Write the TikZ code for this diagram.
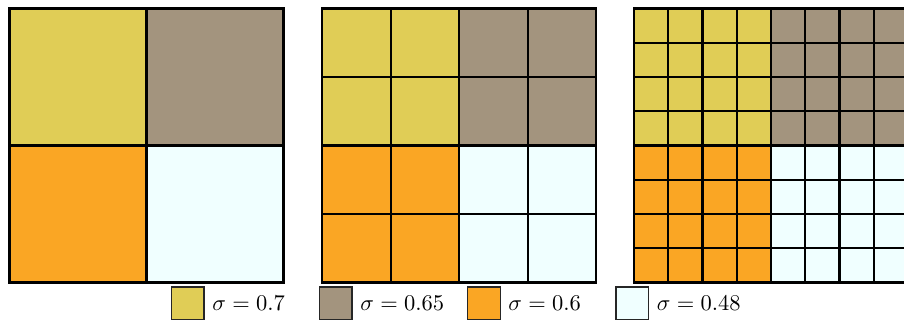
\documentclass[tikz,border=0pt]{standalone}
\definecolor{cyel}{RGB}{224,205,86}
\definecolor{cgry}{RGB}{163,148,126}
\definecolor{corg}{RGB}{250,166,36}
\definecolor{ccyn}{RGB}{240,255,255}
\begin{document}
\begin{tikzpicture}[x=0.4444pt,y=-0.4444pt,
  gridline/.style={line width=0.95pt, line cap=rect},
  legbox/.style={draw=black!85, line width=0.6pt, minimum size=14.4pt, inner sep=0pt},
  legtext/.style={anchor=base west, inner sep=0pt}]
\useasboundingbox (0,0) rectangle (904,320);
\clip (0,0) rectangle (904,320);
\foreach \x/\s/\n in {9.5/137/2, 322.3/68.5/4, 634/34.25/8} {
  \fill[cyel] (\x,8.5) rectangle ++(137,137);
  \fill[cgry] (\x+137,8.5) rectangle ++(137,137);
  \fill[corg] (\x,145.5) rectangle ++(137,137);
  \fill[ccyn] (\x+137,145.5) rectangle ++(137,137);
  \foreach \i in {0,...,\n} {
    \draw[gridline] (\x+\i*\s,8.5) -- ++(0,274);
    \draw[gridline] (\x,8.5+\i*\s) -- ++(274,0);
  }
}
\node[legbox, fill=cyel] (b1) at (187.7,303.2) {};
\node[legtext] (t1) at (212,310) {$\sigma = 0.7$};
\node[legbox, fill=cgry] (b2) at (335.8,303.2) {};
\node[legtext] (t2) at (360,310) {$\sigma = 0.65$};
\node[legbox, fill=corg] (b3) at (484,303.2) {};
\node[legtext] (t3) at (508,310) {$\sigma = 0.6$};
\node[legbox, fill=ccyn] (b4) at (632.3,303.2) {};
\node[legtext] (t4) at (656.5,310) {$\sigma = 0.48$};
\end{tikzpicture}
\end{document}
